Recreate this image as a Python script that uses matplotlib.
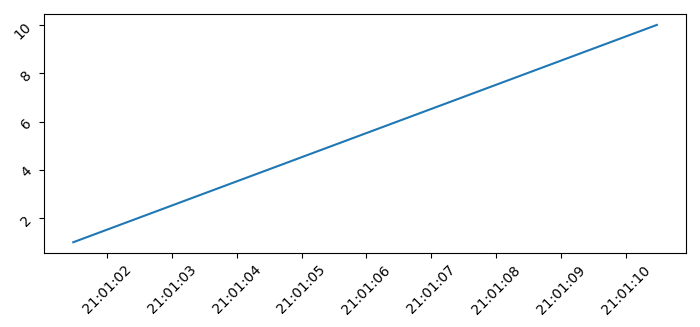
import datetime as dt
import matplotlib
matplotlib.use("Agg")
import matplotlib.pyplot as plt
import matplotlib.dates as mdates

start = dt.datetime(2024, 1, 1, 21, 1, 1, 480000)
times = [start + dt.timedelta(seconds=i) for i in range(10)]
values = [1, 2, 3, 4, 5, 6, 7, 8, 9, 10]

fig, ax = plt.subplots(figsize=(7, 3.27), dpi=100)
ax.plot(times, values)
ax.xaxis.set_major_locator(mdates.SecondLocator())
ax.xaxis.set_major_formatter(mdates.DateFormatter("%H:%M:%S"))
plt.xticks(rotation=45)
plt.yticks(rotation=45)
fig.subplots_adjust(left=0.063, right=0.98, top=0.957, bottom=0.226)
fig.savefig("out.png")
